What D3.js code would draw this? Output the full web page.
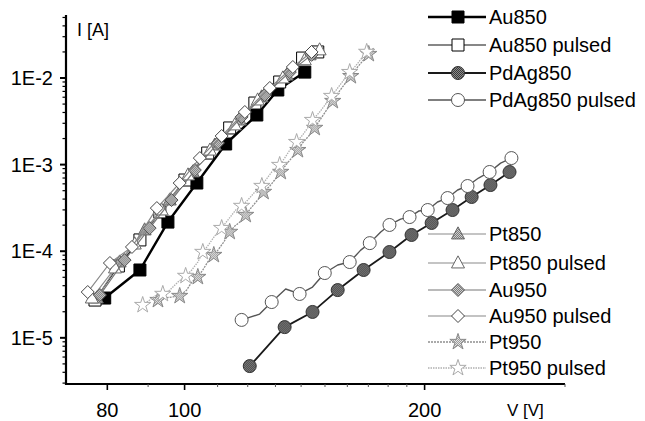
<!DOCTYPE html>
<html>
<head>
<meta charset="utf-8">
<script src="https://cdn.jsdelivr.net/npm/d3@7"></script>
<style>
  body { margin: 0; background: #fff; }
  text { font-family: "Liberation Sans", Arial, Helvetica, sans-serif; fill: #000; }
</style>
</head>
<body>
<svg id="chart" width="645" height="421"></svg>
<script>
// Current–voltage curves of the contact samples (V in volts, I in amperes)
const au850V = [79.4, 87.9, 95.3, 103.6, 112.6, 123.2, 130.9, 141.5];
const au850I = [2.88e-5, 6.07e-5, 2.17e-4, 6.13e-4, 1.73e-3, 3.74e-3, 7.27e-3, 1.17e-2];

const au850pV = [77.2, 82.6, 87.9, 93.1, 100.1, 106.9, 113.9, 122.5, 131.6, 140.6, 146.9];
const au850pI = [2.73e-5, 6.75e-5, 1.35e-4, 2.84e-4, 6.64e-4, 1.36e-3, 2.65e-3, 5.14e-3, 8.99e-3, 1.70e-2, 2.00e-2];

const pdag850V = [120.7, 133.5, 144.7, 155.6, 167.7, 180.7, 192.6, 204.1, 216.8, 229.1, 241.9, 255.6];
const pdag850I = [4.72e-6, 1.33e-5, 1.99e-5, 3.56e-5, 6.07e-5, 9.79e-5, 1.54e-4, 2.12e-4, 2.99e-4, 4.23e-4, 5.81e-4, 8.22e-4];

const pdag850pV = [117.9, 124.2, 128.6, 133.9, 139.4, 144.7, 149.9, 155.6, 161.1, 166.3, 170.7, 176.2, 180.7,
                   186.6, 191.5, 196.6, 201.8, 207.6, 213.7, 220.0, 226.4, 233.7, 241.3, 249.1, 257.0];
const pdag850pI = [1.61e-5, 1.88e-5, 2.59e-5, 3.66e-5, 3.21e-5, 3.86e-5, 5.60e-5, 6.93e-5, 7.50e-5, 1.03e-4, 1.24e-4, 1.67e-4, 2.01e-4,
                   2.35e-4, 2.48e-4, 2.91e-4, 2.99e-4, 3.70e-4, 4.11e-4, 5.09e-4, 5.66e-4, 7.00e-4, 8.22e-4, 1.04e-3, 1.19e-3];

const pt850V = [77.6, 82.9, 89.1, 95.8, 102.4, 109.1, 117.3, 124.9, 134.3, 143.5];
const pt850I = [2.88e-5, 7.50e-5, 1.76e-4, 3.90e-4, 8.22e-4, 1.68e-3, 3.27e-3, 6.04e-3, 1.08e-2, 1.85e-2];

const pt850pV = [76.5, 81.8, 86.6, 93.6, 101.0, 107.6, 115.6, 123.5, 132.8, 141.5, 147.7];
const pt850pI = [2.88e-5, 6.40e-5, 1.21e-4, 2.99e-4, 7.59e-4, 1.47e-3, 2.87e-3, 5.57e-3, 1.00e-2, 1.62e-2, 2.11e-2];

const au950V = [78.3, 84.1, 90.4, 96.3, 103.0, 110.1, 117.9, 126.0, 135.5, 144.3];
const au950I = [3.12e-5, 7.91e-5, 1.85e-4, 3.90e-4, 8.66e-4, 1.78e-3, 3.55e-3, 6.37e-3, 1.17e-2, 1.85e-2];

const au950pV = [75.6, 80.6, 85.9, 92.3, 98.6, 104.5, 111.3, 119.0, 127.9, 136.7, 144.3];
const au950pI = [3.38e-5, 7.31e-5, 1.12e-4, 3.15e-4, 6.13e-4, 1.19e-3, 2.14e-3, 4.05e-3, 7.67e-3, 1.34e-2, 2.00e-2];

const pt950V = [92.6, 94.4, 96.4, 98.6, 100.6, 102.1, 103.9, 105.4, 106.9, 108.8, 110.1, 112.0, 113.9, 115.6, 117.3,
                119.3, 121.4, 123.5, 125.6, 127.9, 129.7, 132.0, 134.3, 136.2, 138.7, 140.6, 143.5, 145.6, 148.1,
                150.7, 153.4, 156.1, 158.8, 161.6, 164.4, 167.2, 170.2, 172.6];
const pt950I = [2.73e-5, 2.88e-5, 2.96e-5, 3.04e-5, 3.56e-5, 4.41e-5, 5.04e-5, 6.07e-5, 7.50e-5, 9.04e-5, 1.03e-4, 1.28e-4,
                1.67e-4, 1.95e-4, 2.17e-4, 2.62e-4, 3.24e-4, 3.90e-4, 4.83e-4, 5.66e-4, 6.64e-4, 8.22e-4, 1.02e-3, 1.19e-3,
                1.47e-3, 1.78e-3, 2.20e-3, 2.65e-3, 3.36e-3, 4.27e-3, 5.42e-3, 6.89e-3, 8.53e-3, 1.05e-2, 1.30e-2,
                1.57e-2, 1.89e-2, 2.22e-2];

const pt950pV = [88.6, 90.4, 91.8, 93.9, 95.8, 98.1, 100.3, 102.1, 103.9, 105.4, 106.9, 109.1, 111.3, 113.3, 115.9,
                 117.9, 120.0, 122.5, 125.0, 126.4, 128.6, 131.6, 133.5, 135.5, 138.2, 140.6, 142.7, 144.7, 147.7,
                 150.3, 152.9, 155.6, 158.3, 161.1, 163.9, 166.8, 169.2];
const pt950pI = [2.39e-5, 2.73e-5, 3.04e-5, 3.21e-5, 3.56e-5, 4.41e-5, 5.18e-5, 6.07e-5, 7.50e-5, 9.79e-5, 1.15e-4, 1.50e-4,
                 1.85e-4, 2.29e-4, 2.99e-4, 3.33e-4, 3.90e-4, 4.83e-4, 5.66e-4, 6.64e-4, 8.22e-4, 9.89e-4, 1.19e-3,
                 1.47e-3, 1.82e-3, 2.20e-3, 2.65e-3, 3.27e-3, 4.05e-3, 5.01e-3, 6.19e-3, 7.67e-3, 9.48e-3, 1.17e-2,
                 1.38e-2, 1.70e-2, 2.00e-2];

const xTickValues = [80, 100, 200];
const xTickLabels = ["80", "100", "200"];
const yTickValues = [1e-5, 1e-4, 1e-3, 1e-2];
const yTickLabels = ["1E-5", "1E-4", "1E-3", "1E-2"];
const seriesNames = ["Au850", "Au850 pulsed", "PdAg850", "PdAg850 pulsed", "Pt850", "Pt850 pulsed",
                     "Au950", "Au950 pulsed", "Pt950", "Pt950 pulsed"];

const svg = d3.select("#chart");
const plot = { left: 66, right: 565, top: 15, bottom: 384 };

const x = d3.scaleLog().domain([71, 300]).range([plot.left, plot.right]);
const y = d3.scaleLog().domain([2.93e-6, 0.0534]).range([plot.bottom, plot.top]);

// halftone fills for the shaded symbols
const defs = svg.append("defs");
function halftone(id, base, dot) {
  const p = defs.append("pattern").attr("id", id).attr("patternUnits", "userSpaceOnUse")
    .attr("width", 2).attr("height", 2);
  p.append("rect").attr("width", 2).attr("height", 2).attr("fill", base);
  p.append("rect").attr("width", 1).attr("height", 1).attr("fill", dot);
  p.append("rect").attr("x", 1).attr("y", 1).attr("width", 1).attr("height", 1).attr("fill", dot);
}
halftone("htDark", "#3a3a3a", "#8c8c8c");
halftone("htGray", "#7a7a7a", "#cfcfcf");
halftone("htLight", "#9a9a9a", "#e4e4e4");

const shapes = {
  square: s => `M${-s / 2},${-s / 2}h${s}v${s}h${-s}Z`,
  circle: s => d3.symbol(d3.symbolCircle, Math.PI * (s / 2) ** 2)(),
  triangle: s => `M0,${-s * 0.55}L${s / 2},${s * 0.38}L${-s / 2},${s * 0.38}Z`,
  diamond: s => `M0,${-s / 2}L${s / 2},0L0,${s / 2}L${-s / 2},0Z`,
  star: s => d3.symbol(d3.symbolStar, s * s * 0.42)()
};

const series = [
  { V: au850V,    I: au850I,    step: 1, line: "#000",    lw: 2.4, dash: null,  shape: "square",   size: 12, fill: "#000",          stroke: "#000" },
  { V: au850pV,   I: au850pI,   step: 1, line: "#111",    lw: 1.1, dash: null,  shape: "square",   size: 12, fill: "#fff",          stroke: "#000" },
  { V: pdag850V,  I: pdag850I,  step: 1, line: "#1a1a1a", lw: 1.8, dash: null,  shape: "circle",   size: 13, fill: "url(#htDark)",  stroke: "#333" },
  { V: pdag850pV, I: pdag850pI, step: 2, line: "#555",    lw: 1.4, dash: null,  shape: "circle",   size: 13, fill: "#fff",          stroke: "#555" },
  { V: pt850V,    I: pt850I,    step: 1, line: "#8a8a8a", lw: 1.2, dash: null,  shape: "triangle", size: 13, fill: "url(#htGray)",  stroke: "#666" },
  { V: pt850pV,   I: pt850pI,   step: 1, line: "#8a8a8a", lw: 1.2, dash: null,  shape: "triangle", size: 13, fill: "#fff",          stroke: "#666" },
  { V: au950V,    I: au950I,    step: 1, line: "#777",    lw: 1.2, dash: null,  shape: "diamond",  size: 13, fill: "url(#htGray)",  stroke: "#555" },
  { V: au950pV,   I: au950pI,   step: 1, line: "#888",    lw: 1.2, dash: null,  shape: "diamond",  size: 13, fill: "#fff",          stroke: "#444" },
  { V: pt950V,    I: pt950I,    step: 3, line: "#8f8f8f", lw: 1.3, dash: "2,1", shape: "star",     size: 14, fill: "url(#htLight)", stroke: "#888" },
  { V: pt950pV,   I: pt950pI,   step: 3, line: "#b0b0b0", lw: 1.3, dash: "1.5,1", shape: "star",   size: 14, fill: "#fff",          stroke: "#aaa" }
];

// curves, each drawn with its own symbols so later series sit on top
const lineGen = d3.line().x(d => x(d[0])).y(d => y(d[1]));
const curves = svg.append("g");
series.forEach(s => {
  const pts = s.V.map((v, i) => [v, s.I[i]]);
  const g = curves.append("g");
  g.append("path").datum(pts).attr("d", lineGen)
    .attr("fill", "none").attr("stroke", s.line).attr("stroke-width", s.lw)
    .attr("stroke-linejoin", "round").attr("stroke-dasharray", s.dash);
  g.selectAll("path.mk").data(pts.filter((d, i) => i % s.step === 0)).join("path")
    .attr("class", "mk")
    .attr("transform", d => `translate(${x(d[0])},${y(d[1])})`)
    .attr("d", shapes[s.shape](s.size))
    .attr("fill", s.fill).attr("stroke", s.stroke).attr("stroke-width", 1);
});

// axes
const axes = svg.append("g").attr("stroke", "#000");
axes.append("line").attr("x1", plot.left).attr("x2", plot.left)
  .attr("y1", plot.top).attr("y2", plot.bottom + 1).attr("stroke-width", 2.2);
axes.append("line").attr("x1", plot.left - 1).attr("x2", plot.right)
  .attr("y1", plot.bottom).attr("y2", plot.bottom).attr("stroke-width", 2.2);

// y ticks: decades labelled, 2..9 as minor marks
const [y0, y1] = y.domain();
const yMinor = [];
for (let e = -6; e <= -1; e++) {
  for (let m = 2; m <= 9; m++) {
    const v = m * Math.pow(10, e);
    if (v >= y0 && v <= y1) yMinor.push(v);
  }
}
axes.selectAll("line.ymin").data(yMinor).join("line").attr("class", "ymin")
  .attr("x1", plot.left - 3.5).attr("x2", plot.left).attr("y1", d => y(d)).attr("y2", d => y(d))
  .attr("stroke-width", 1.2);
axes.selectAll("line.ymaj").data(yTickValues).join("line").attr("class", "ymaj")
  .attr("x1", plot.left - 6).attr("x2", plot.left).attr("y1", d => y(d)).attr("y2", d => y(d))
  .attr("stroke-width", 2);
svg.selectAll("text.ylab").data(yTickValues).join("text").attr("class", "ylab")
  .attr("x", 53).attr("y", d => y(d) + 7).attr("text-anchor", "end")
  .attr("font-size", 20).text((d, i) => yTickLabels[i]);

// x ticks
const xMinor = [90, 110, 120, 130, 140, 150, 160, 170, 180, 190, 300].filter(v => v <= x.domain()[1]);
axes.selectAll("line.xmin").data(xMinor).join("line").attr("class", "xmin")
  .attr("x1", d => x(d)).attr("x2", d => x(d)).attr("y1", plot.bottom).attr("y2", plot.bottom + 3)
  .attr("stroke-width", 1).attr("stroke", "#555");
axes.selectAll("line.xmaj").data(xTickValues).join("line").attr("class", "xmaj")
  .attr("x1", d => x(d)).attr("x2", d => x(d)).attr("y1", plot.bottom).attr("y2", plot.bottom + 6)
  .attr("stroke-width", 1.6);
svg.selectAll("text.xlab").data(xTickValues).join("text").attr("class", "xlab")
  .attr("x", d => x(d)).attr("y", 417).attr("text-anchor", "middle")
  .attr("font-size", 20).text((d, i) => xTickLabels[i]);

// axis titles
svg.append("text").attr("x", 77).attr("y", 36).attr("font-size", 18).text("I [A]");
svg.append("text").attr("x", 507).attr("y", 416).attr("font-size", 17).text("V [V]");

// legend
const legendRows = [17, 45, 73, 100, 234, 263, 290, 316, 342, 368];
const legend = svg.append("g");
series.forEach((s, i) => {
  const ly = legendRows[i];
  const g = legend.append("g").attr("transform", `translate(0,${ly})`);
  g.append("line").attr("x1", 428).attr("x2", 486).attr("y1", 0).attr("y2", 0)
    .attr("stroke", s.line).attr("stroke-width", s.lw).attr("stroke-dasharray", s.dash);
  g.append("path").attr("transform", "translate(458,0)").attr("d", shapes[s.shape](s.size))
    .attr("fill", s.fill).attr("stroke", s.stroke).attr("stroke-width", 1);
  g.append("text").attr("x", 489).attr("y", 7).attr("font-size", 20).text(seriesNames[i]);
});
</script>
</body>
</html>
